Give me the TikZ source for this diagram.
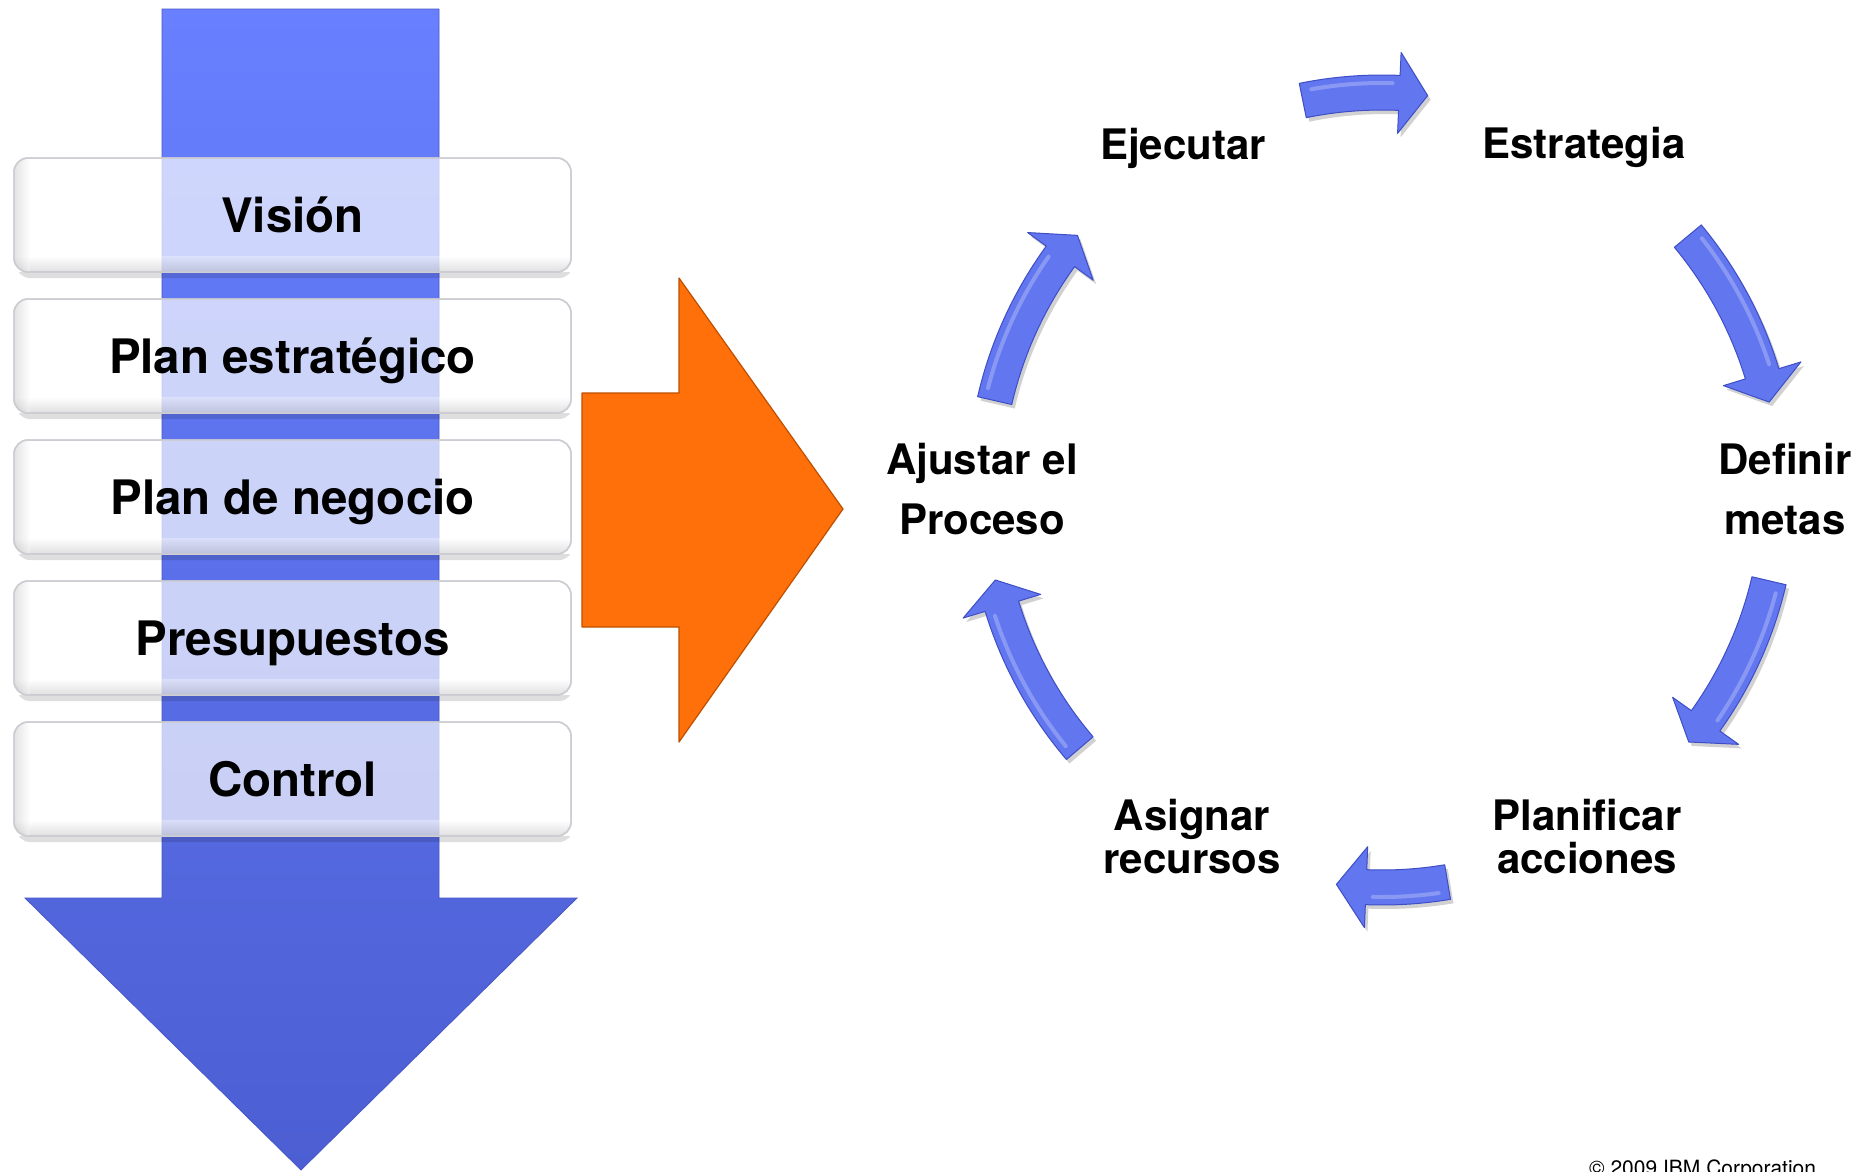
\documentclass[tikz,border=0pt]{standalone}
\usepackage{fontspec}
\setmainfont{TeX Gyre Heros}
\definecolor{shafttop}{RGB}{104,128,255}
\definecolor{shaftbot}{RGB}{76,94,210}
\definecolor{shaftedge}{RGB}{70,86,200}
\definecolor{orangefill}{RGB}{255,112,10}
\definecolor{orangeedge}{RGB}{190,80,0}
\definecolor{cycfill}{RGB}{98,118,240}
\definecolor{cycedge}{RGB}{62,78,196}
\definecolor{boxedge}{RGB}{205,205,212}
\newcommand\cycarrow[4]{\path[#1] plot[domain=#2:#3, samples=24, variable=\t] (\t:415) -- (#3:438) -- (#4:397) -- (#3:357) -- plot[domain=#3:#2, samples=24, variable=\t] (\t:380) -- cycle;}
\newcommand\cychl[2]{\path[cychighlight] plot[domain=#1:#2, samples=24, variable=\t] (\t:407);}
\newcommand\twoline[2]{\vtop{\hbox to 0pt{\hss#1\hss}\hbox to 0pt{\hss#2\hss}}}
\begin{document}
\begin{tikzpicture}[x=1pt, y=-1pt,
  boxtext/.style={font=\fontsize{47.5}{50}\selectfont\bfseries, anchor=base, inner sep=0},
  cyctext/.style={font=\fontsize{42}{60}\selectfont\bfseries, anchor=base, inner sep=0},
  cyctexttight/.style={font=\fontsize{42}{43}\selectfont\bfseries, anchor=base, inner sep=0},
  boxshape/.style={fill=white, fill opacity=0.69, draw=boxedge, line width=1.5, rounded corners=14},
  cycshadow/.style={fill=black, opacity=0.18},
  cycstyle/.style={fill=cycfill, draw=cycedge, line width=1, line join=round},
  cychighlight/.style={draw=white, opacity=0.25, line width=4, line cap=round}]
\useasboundingbox (0,0) rectangle (1871,1171);
\fill[white] (0,0) rectangle (1871,1171);

% big downward arrow
\path[top color=shafttop, bottom color=shaftbot, draw=shaftedge, line width=0.8]
  (162,9) -- (439,9) -- (439,898) -- (577,898) -- (301,1170) -- (25,898) -- (162,898) -- cycle;

% boxes
\foreach \T/\txt/\nm in {158/Visión/vis, 299/Plan estratégico/pe, 440/Plan de negocio/pn, 581/Presupuestos/pr, 722/Control/ct}{
  \pgfmathsetmacro\B{\T+114}
  \begin{scope}
    \clip (0,\B) rectangle (600,\B+18);
    \fill[black, opacity=0.13, rounded corners=14] (16,\T+6) rectangle (573,\B+6);
  \end{scope}
  \path[boxshape] (14,\T) rectangle (571,\B);
  \begin{scope}
    \clip[rounded corners=14] (14,\T) rectangle (571,\B);
    \shade[top color=white, bottom color=black!40, opacity=0.3] (14,\B-16) rectangle (571,\B);
    \shade[left color=black!35, right color=white, opacity=0.3] (14,\T) rectangle (30,\B);
  \end{scope}
  \draw[draw=boxedge, line width=1.5, rounded corners=14] (14,\T) rectangle (571,\B);
  \node[boxtext] (\nm) at (292.5,\T+74.5) {\txt};
}

% orange arrow
\path[fill=orangefill, draw=orangeedge, line width=1.2, line join=round]
  (582,393) -- (679,393) -- (679,278) -- (843,509) -- (679,742) -- (679,627) -- (582,627) -- cycle;

% cycle arrows: shadows
\begin{scope}[shift={(1385,494)}, yscale=-1]
  \foreach \a/\b/\c in {101.5/87.5/83.4, 39.7/17/12.8, -13.2/-35.5/-39.4, -80.5/-92.3/-96.6, -139.5/-163/-166.9, 167/144/140.1}{
    \cycarrow{cycshadow}{\a}{\b}{\c}
  }
\end{scope}
% cycle arrows
\begin{scope}[shift={(1382,490)}, yscale=-1]
  \foreach \a/\b/\c in {101.5/87.5/83.4, 39.7/17/12.8, -13.2/-35.5/-39.4, -80.5/-92.3/-96.6, -139.5/-163/-166.9, 167/144/140.1}{
    \cycarrow{cycstyle}{\a}{\b}{\c}
    \cychl{\a-1.5}{\b+1}
  }
\end{scope}

% cycle labels
\node[cyctext] (ejec) at (1183,159) {Ejecutar};
\node[cyctext] (estr) at (1584,158) {Estrategia};
\node[cyctext] (defi) at (1785,474) {\twoline{Definir}{metas}};
\node[cyctexttight] (plan) at (1587,830) {\twoline{Planificar}{acciones}};
\node[cyctexttight] (asig) at (1192,830) {\twoline{Asignar}{recursos}};
\node[cyctext] (ajus) at (982,474) {\twoline{Ajustar el}{Proceso}};

% copyright
\node[anchor=base west, inner sep=0, font=\fontsize{21}{24}\selectfont] (copy) at (1589,1175) {© 2009 IBM Corporation};
\end{tikzpicture}
\end{document}
